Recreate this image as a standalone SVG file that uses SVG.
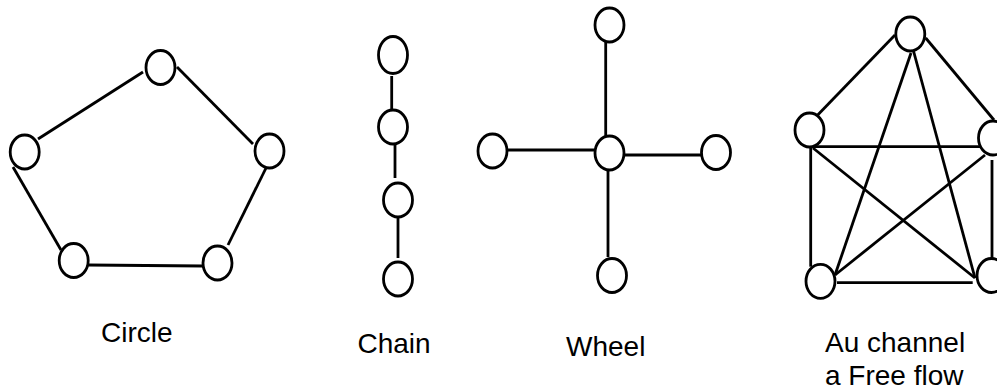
<svg xmlns="http://www.w3.org/2000/svg" width="997" height="390" viewBox="0 0 997 390">
<style>
.n{fill:#fff;stroke:#000;stroke-width:2.8}
.e{stroke:#000;stroke-width:2.8;fill:none;stroke-linecap:butt}
.t{font-family:"Liberation Sans",Arial,sans-serif;font-size:28px;fill:#000}
</style>
<rect width="997" height="390" fill="#fff"/>
<g id="connectors">
<!-- circle -->
<line class="e" x1="38" y1="139" x2="143" y2="72"/>
<line class="e" x1="177" y1="67" x2="253" y2="144"/>
<line class="e" x1="13" y1="167" x2="61" y2="250"/>
<line class="e" x1="267" y1="166" x2="228" y2="245"/>
<line class="e" x1="88" y1="265" x2="203" y2="266"/>
<!-- chain -->
<line class="e" x1="391.7" y1="76" x2="391.7" y2="109"/>
<line class="e" x1="395" y1="138" x2="395" y2="178"/>
<line class="e" x1="398" y1="217" x2="398" y2="258"/>
<!-- wheel -->
<line class="e" x1="605.7" y1="41.7" x2="605.7" y2="137"/>
<line class="e" x1="508" y1="150" x2="594" y2="150"/>
<line class="e" x1="625" y1="155" x2="702" y2="155"/>
<line class="e" x1="608" y1="170" x2="608" y2="257"/>
<!-- free flow -->
<line class="e" x1="895" y1="35" x2="817.7" y2="115"/>
<line class="e" x1="925.7" y1="38" x2="994" y2="120"/>
<line class="e" x1="811.7" y1="146.7" x2="988" y2="146.7"/>
<line class="e" x1="810.7" y1="146.7" x2="810.7" y2="266.7"/>
<line class="e" x1="992" y1="160" x2="992" y2="258"/>
<line class="e" x1="837" y1="282.7" x2="972.7" y2="282.7"/>
<line class="e" x1="911" y1="53" x2="835" y2="275"/>
<line class="e" x1="912.7" y1="48" x2="975" y2="278"/>
<line class="e" x1="813" y1="148" x2="975" y2="278"/>
<line class="e" x1="985" y1="155" x2="835" y2="275"/>
</g>
<g id="circle-top"><ellipse class="n" cx="160.5" cy="67.5" rx="14.5" ry="17"/></g>
<g id="circle-left"><ellipse class="n" cx="24.7" cy="152" rx="14.5" ry="17"/></g>
<g id="circle-right"><ellipse class="n" cx="269.5" cy="151" rx="14.5" ry="17"/></g>
<g id="circle-bl"><ellipse class="n" cx="73.7" cy="260.5" rx="14.5" ry="17"/></g>
<g id="circle-br"><ellipse class="n" cx="217.5" cy="263" rx="14.5" ry="17"/></g>
<g id="chain-1"><ellipse class="n" cx="393" cy="55" rx="14.5" ry="18.5"/></g>
<g id="chain-2"><ellipse class="n" cx="393" cy="127" rx="14.5" ry="17"/></g>
<g id="chain-3"><ellipse class="n" cx="398" cy="200" rx="14.5" ry="17"/></g>
<g id="chain-4"><ellipse class="n" cx="398" cy="279" rx="14.5" ry="17"/></g>
<g id="wheel-top"><ellipse class="n" cx="609.5" cy="25" rx="14.5" ry="17"/></g>
<g id="wheel-left"><ellipse class="n" cx="492.5" cy="151" rx="14.5" ry="17"/></g>
<g id="wheel-center"><ellipse class="n" cx="609.5" cy="153" rx="14.5" ry="17"/></g>
<g id="wheel-right"><ellipse class="n" cx="716" cy="152.5" rx="14.5" ry="17"/></g>
<g id="wheel-bottom"><ellipse class="n" cx="612" cy="275.5" rx="14.5" ry="17"/></g>
<g id="free-top"><ellipse class="n" cx="910.3" cy="34" rx="14.5" ry="17"/></g>
<g id="free-left"><ellipse class="n" cx="809.5" cy="130" rx="14.5" ry="17"/></g>
<g id="free-right"><ellipse class="n" cx="993" cy="138" rx="14.5" ry="17"/></g>
<g id="free-bl"><ellipse class="n" cx="820.5" cy="281.3" rx="14.5" ry="17"/></g>
<g id="free-br"><ellipse class="n" cx="991.5" cy="275.5" rx="14.5" ry="17"/></g>
<g id="labels">
<text class="t" x="101" y="341.5">Circle</text>
<text class="t" x="357.5" y="353">Chain</text>
<text class="t" x="566" y="356">Wheel</text>
<text class="t" x="825" y="351.5">Au channel</text>
<text class="t" x="825" y="384.5">a Free flow</text>
</g>
</svg>
